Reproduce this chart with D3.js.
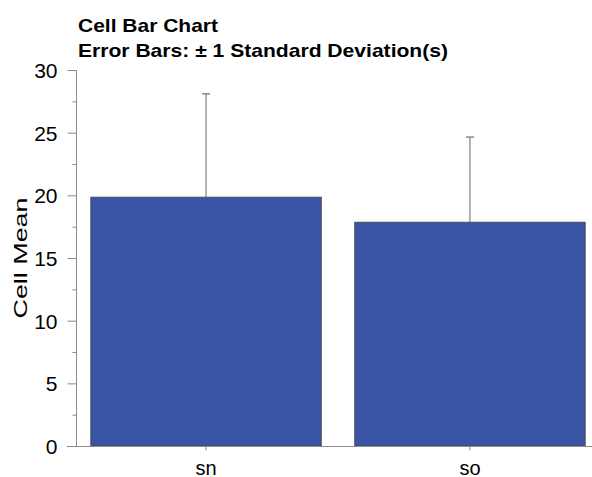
<!DOCTYPE html>
<html><head><meta charset="utf-8">
<script src="https://cdn.jsdelivr.net/npm/d3@7"></script>
<style>
body{margin:0;background:#fff;}
text{font-family:"Liberation Sans",Arial,Helvetica,sans-serif;}
</style></head>
<body>
<svg id="chart" width="592" height="477"></svg>
<script>
const categories = ["sn", "so"];
const means = [19.85, 17.85];
const sds = [8.25, 6.8];
const yTicks = [0, 5, 10, 15, 20, 25, 30];
const yMinorTicks = [2.5, 7.5, 12.5, 17.5, 22.5, 27.5];

const svg = d3.select("#chart");
const x = d3.scaleBand().domain(categories).range([75, 601]).paddingInner(0.127).paddingOuter(0.06);
const y = d3.scaleLinear().domain([0, 30]).range([446, 70]);
const axisColor = "#8a8a8a";
const ff = "Liberation Sans, Arial, sans-serif";

// titles
svg.append("text").attr("x", 78).attr("y", 32).attr("font-size", 19).attr("font-weight", "bold")
  .attr("textLength", 140).attr("lengthAdjust", "spacingAndGlyphs").text("Cell Bar Chart");
svg.append("text").attr("x", 78).attr("y", 57).attr("font-size", 19).attr("font-weight", "bold")
  .attr("textLength", 370).attr("lengthAdjust", "spacingAndGlyphs").text("Error Bars: \u00b1 1 Standard Deviation(s)");

// bars
svg.selectAll("rect.bar").data(categories).join("rect").attr("class", "bar")
  .attr("x", d => x(d)).attr("width", x.bandwidth())
  .attr("y", (d, i) => y(means[i])).attr("height", (d, i) => y(0) - y(means[i]))
  .attr("fill", "#3a54a5").attr("stroke", "#4a4a5a").attr("stroke-width", 1);

// error bars
const eb = svg.selectAll("g.err").data(categories).join("g").attr("class", "err");
eb.append("line").attr("x1", d => x(d) + x.bandwidth() / 2).attr("x2", d => x(d) + x.bandwidth() / 2)
  .attr("y1", (d, i) => y(means[i])).attr("y2", (d, i) => y(means[i] + sds[i]))
  .attr("stroke", "#666").attr("stroke-width", 1);
eb.append("line").attr("x1", d => x(d) + x.bandwidth() / 2 - 4).attr("x2", d => x(d) + x.bandwidth() / 2 + 4)
  .attr("y1", (d, i) => y(means[i] + sds[i])).attr("y2", (d, i) => y(means[i] + sds[i]))
  .attr("stroke", "#888").attr("stroke-width", 1.5);

// y axis
const yAxis = svg.append("g").attr("transform", "translate(76.5,0)")
  .call(d3.axisLeft(y).tickValues(yTicks).tickSize(9).tickPadding(10).tickFormat(d3.format("d")));
yAxis.select(".domain").attr("stroke", axisColor).attr("d", `M0,${y(30)}V${y(0)}`);
yAxis.selectAll(".tick line").attr("stroke", axisColor);
yAxis.selectAll(".tick text").attr("font-size", 21).attr("fill", "#000").attr("font-family", ff).attr("dy", "0.36em");
const yMinor = svg.append("g").attr("transform", "translate(76.5,0)")
  .call(d3.axisLeft(y).tickValues(yMinorTicks).tickSize(4).tickFormat(""));
yMinor.select(".domain").remove();
yMinor.selectAll(".tick line").attr("stroke", axisColor);

// x axis
const xAxis = svg.append("g").attr("transform", "translate(0,446.5)")
  .call(d3.axisBottom(x).tickSize(4));
xAxis.select(".domain").attr("stroke", axisColor).attr("d", "M67,0H592");
xAxis.selectAll(".tick line").attr("stroke", axisColor);
xAxis.selectAll(".tick text").attr("font-size", 20).attr("fill", "#000").attr("font-family", ff)
  .attr("y", 28).attr("dy", 0);

// y title
svg.append("text").attr("transform", "translate(27,258) rotate(-90)").attr("text-anchor", "middle")
  .attr("font-size", 19).attr("font-family", ff).attr("textLength", 121).attr("lengthAdjust", "spacingAndGlyphs").text("Cell Mean");
</script>
</body></html>
